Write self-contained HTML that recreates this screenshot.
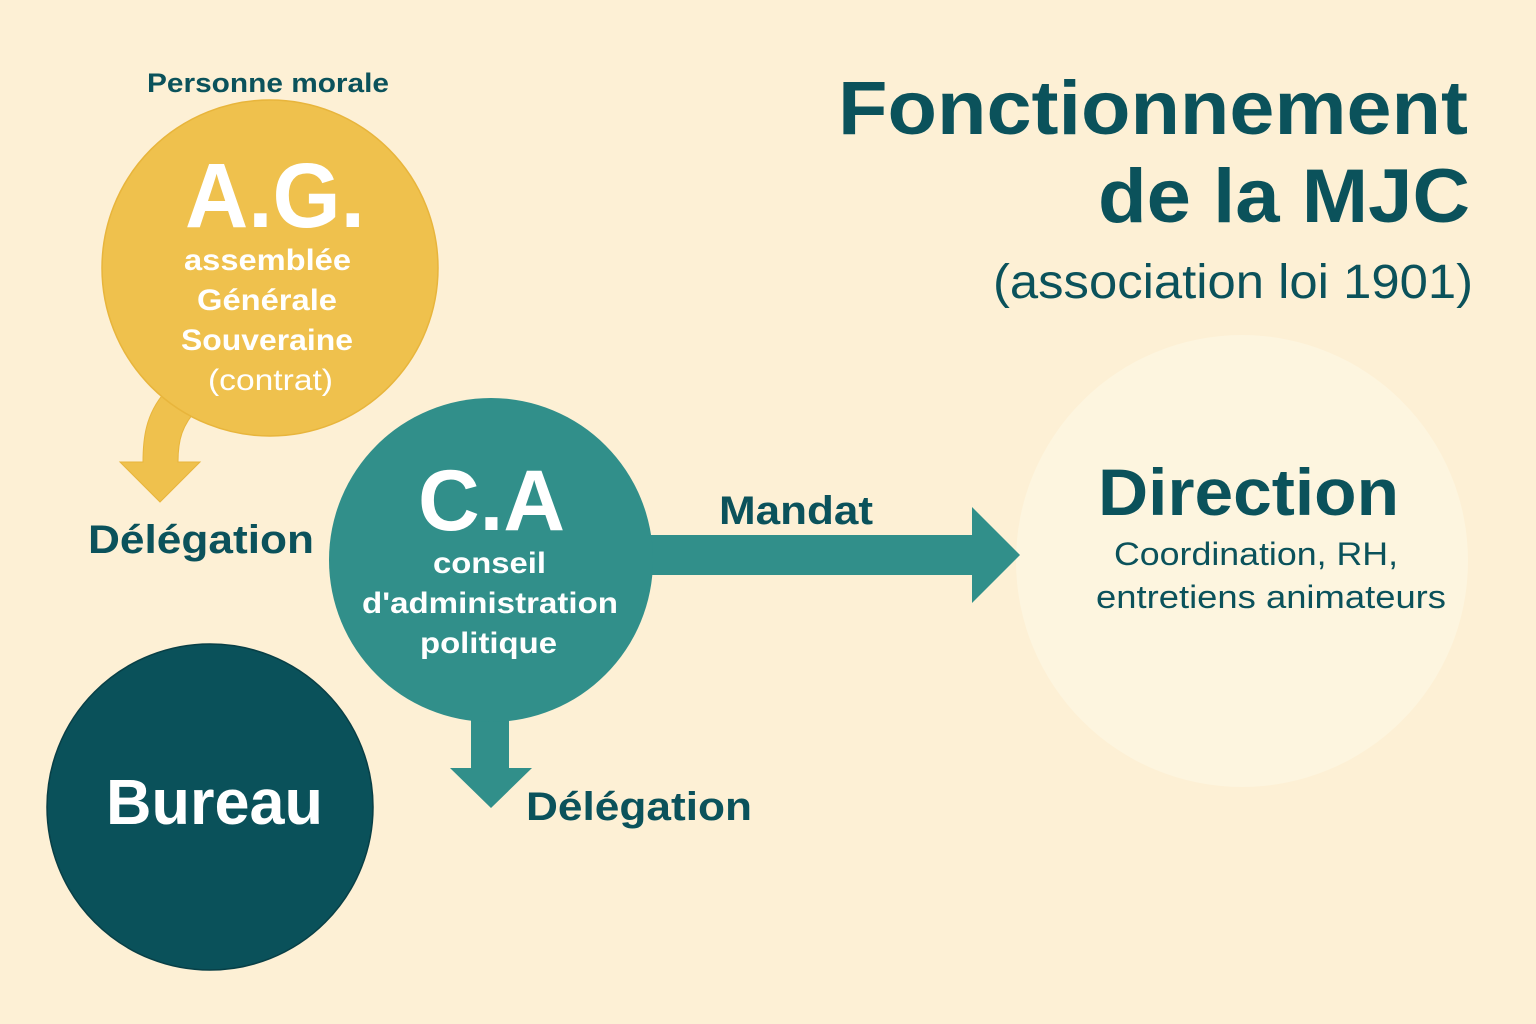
<!DOCTYPE html>
<html><head><meta charset="utf-8"><style>
html,body{margin:0;padding:0;background:#fdf0d5;}
svg{display:block;font-family:"Liberation Sans","DejaVu Sans",sans-serif;}
</style></head><body>
<svg width="1536" height="1024" viewBox="0 0 1536 1024">
<rect width="1536" height="1024" fill="#fdf0d5"/>
<path d="M165 392 C145 415 143 440 143 462 L120 462 L160 502 L200 462 L178 462 C178 440 182 425 198 408 Z" fill="#efc14d" stroke="#e8b53c" stroke-width="1"/>
<circle cx="270" cy="268" r="168" fill="#efc14d" stroke="#e8b53c" stroke-width="1.5"/>
<path d="M471 700 L509 700 L509 768 L532 768 L491 808 L450 768 L471 768 Z" fill="#318f8a"/>
<circle cx="1242" cy="561" r="226" fill="#fdf5df"/>
<path d="M640 535 L972 535 L972 507 L1020 555 L972 603 L972 575 L640 575 Z" fill="#318f8a"/>
<circle cx="491" cy="560" r="162" fill="#318f8a"/>
<circle cx="210" cy="807" r="163" fill="#0a515a" stroke="#083f46" stroke-width="1.5"/>

<g fill="#0b525b" font-weight="bold">
<text x="147" y="92" font-size="27" textLength="242" lengthAdjust="spacingAndGlyphs">Personne morale</text>
<text x="838" y="134" font-size="76" textLength="630" lengthAdjust="spacingAndGlyphs">Fonctionnement</text>
<text x="1098" y="222" font-size="76" textLength="372" lengthAdjust="spacingAndGlyphs">de la MJC</text>
<text x="719" y="524" font-size="40" textLength="154" lengthAdjust="spacingAndGlyphs">Mandat</text>
<text x="88" y="553" font-size="40" textLength="226" lengthAdjust="spacingAndGlyphs">Délégation</text>
<text x="526" y="820" font-size="40" textLength="226" lengthAdjust="spacingAndGlyphs">Délégation</text>
<text x="1098" y="515" font-size="66" textLength="301" lengthAdjust="spacingAndGlyphs">Direction</text>
</g>
<g fill="#0b525b">
<text x="993" y="298" font-size="48" textLength="480" lengthAdjust="spacingAndGlyphs">(association loi 1901)</text>
<text x="1114" y="565" font-size="32" textLength="284" lengthAdjust="spacingAndGlyphs">Coordination, RH,</text>
<text x="1096" y="608" font-size="32" textLength="350" lengthAdjust="spacingAndGlyphs">entretiens animateurs</text>
</g>
<g fill="#ffffff" font-weight="bold">
<text x="185" y="227" font-size="92" textLength="180" lengthAdjust="spacingAndGlyphs">A.G.</text>
<text x="184" y="270" font-size="30" textLength="167" lengthAdjust="spacingAndGlyphs">assemblée</text>
<text x="197" y="310" font-size="30" textLength="140" lengthAdjust="spacingAndGlyphs">Générale</text>
<text x="181" y="350" font-size="30" textLength="172" lengthAdjust="spacingAndGlyphs">Souveraine</text>
<text x="418" y="530" font-size="86" textLength="147" lengthAdjust="spacingAndGlyphs">C.A</text>
<text x="433" y="573" font-size="30" textLength="113" lengthAdjust="spacingAndGlyphs">conseil</text>
<text x="362" y="613" font-size="30" textLength="256" lengthAdjust="spacingAndGlyphs">d'administration</text>
<text x="420" y="653" font-size="30" textLength="137" lengthAdjust="spacingAndGlyphs">politique</text>
<text x="106" y="824" font-size="64" textLength="217" lengthAdjust="spacingAndGlyphs">Bureau</text>
</g>
<text x="208" y="390" font-size="30" fill="#ffffff" textLength="125" lengthAdjust="spacingAndGlyphs">(contrat)</text>
</svg>
</body></html>
